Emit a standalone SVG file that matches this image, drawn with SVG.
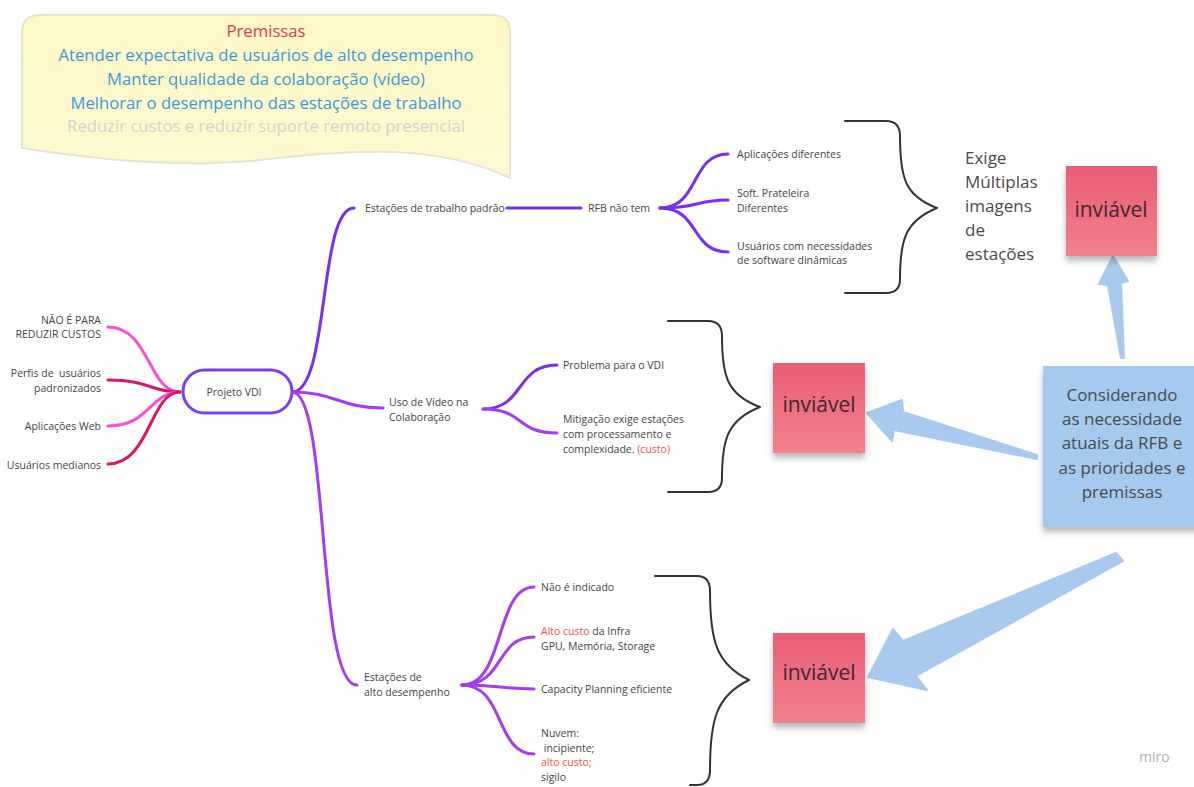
<svg xmlns="http://www.w3.org/2000/svg" width="1194" height="787" viewBox="0 0 1194 787">
<defs>
<style>
.t{font-family:"Open Sans","Noto Sans",sans-serif;font-size:10.5px;fill:#444;white-space:pre}
.r{fill:#e8553f}
.pm{font-family:"Open Sans","Noto Sans",sans-serif;font-size:16.7px;text-anchor:middle}
.big{font-family:"Open Sans","Noto Sans",sans-serif;font-size:17px;fill:#4a4a4a}
.inv{font-family:"Open Sans","Noto Sans",sans-serif;font-size:21px;fill:#3a2a2e;text-anchor:middle}
.br{fill:none;stroke:#333;stroke-width:2;stroke-linecap:round;stroke-linejoin:round}
.c{fill:none;stroke-width:3;stroke-linecap:round}
.pk{stroke:#f152d6}
.cr{stroke:#dc1665}
.vi{stroke:#7a2cf0}
.mg{stroke:#a43cef}
.ar{fill:#a9c9ef;stroke:#a9c9ef;stroke-width:2;stroke-linejoin:round}
</style>
<linearGradient id="stk" x1="0" y1="0" x2="0" y2="1">
<stop offset="0" stop-color="#e95d75"/>
<stop offset="1" stop-color="#f1818f"/>
</linearGradient>
<linearGradient id="yel" x1="0" y1="0" x2="0" y2="1">
<stop offset="0" stop-color="#fdf8c4"/>
<stop offset="1" stop-color="#fdf9d2"/>
</linearGradient>
<filter id="sh" x="-20%" y="-20%" width="140%" height="150%">
<feDropShadow dx="0" dy="5" stdDeviation="3" flood-color="#000" flood-opacity="0.28"/>
</filter>
</defs>

<g id="premissas">
<path d="M22,32 Q22,15 40,15 H492 Q510,15 510,32 V178 C 440,145 360,148 260,160 C 180,168 100,160 22,148 Z" fill="url(#yel)" stroke="#e6e4d2" stroke-width="2"/>
<text class="pm" x="266" y="37" fill="#d63a5e">Premissas</text>
<text class="pm" x="266" y="61" fill="#3a9ad9">Atender expectativa de usuários de alto desempenho</text>
<text class="pm" x="266" y="85" fill="#3a9ad9">Manter qualidade da colaboração (vídeo)</text>
<text class="pm" x="266" y="109" fill="#3a9ad9">Melhorar o desempenho das estações de trabalho</text>
<text class="pm" x="266" y="132" fill="#d2d2d2">Reduzir custos e reduzir suporte remoto presencial</text>
</g>

<g id="connectors">
<path class="c pk" d="M108,327 C 150,327 148,392 180,392"/>
<path class="c cr" d="M108,380 C 150,380 150,392 180,392"/>
<path class="c pk" d="M108,426 C 150,426 150,392 180,392"/>
<path class="c cr" d="M108,464 C 150,464 150,392 180,392"/>
<path class="c vi" d="M292,392 C 330,392 318,208 354,208"/>
<path class="c mg" d="M292,392 C 335,392 340,408 383,408"/>
<path class="c mg" d="M292,392 C 330,392 316,685 357,685"/>
<path class="c vi" d="M507,208 H581"/>
<path class="c vi" d="M660,208 C 700,208 690,154 728,154"/>
<path class="c vi" d="M660,208 C 700,208 695,200 728,200"/>
<path class="c vi" d="M660,208 C 700,208 690,252 728,252"/>
<path class="c vi" d="M483,409 C 525,409 515,365 557,365"/>
<path class="c mg" d="M483,409 C 525,409 515,433 557,433"/>
<path class="c mg" d="M462,685 C 505,685 495,587 534,587"/>
<path class="c mg" d="M462,685 C 505,685 495,637 534,637"/>
<path class="c mg" d="M462,685 C 500,685 500,689 534,689"/>
<path class="c mg" d="M462,685 C 505,685 495,754 534,754"/>
<path class="br" d="M845,121 H886 Q900,121 900,136 C 900,178 905,196 937,208 C 905,221 900,240 900,279 Q900,293 886,293 H845"/>
<path class="br" d="M668,321 H708 Q722,321 722,336 C 722,376 727,395 760,407 C 727,420 722,440 722,478 Q722,492 708,492 H668"/>
<path class="br" d="M655,576 H697 Q710,576 710,591 C 710,640 716,664 749,680 C 716,696 710,720 710,770 Q710,785 697,785 H690"/>
<polygon class="ar" points="1121,358 1124,358 1121,283 1128,281 1113,256 1099,284 1108,285"/>
<polygon class="ar" points="1037,455 903,412 902,400 867,413 892,441 894,430 1037,459"/>
<polygon class="ar" points="1116,553 903,641 893,629 868,677 927,690 916,676 1123,561"/>
</g>

<g id="left-items">
<text class="t" x="101" y="324" text-anchor="end">NÃO É PARA</text>
<text class="t" x="101" y="338" text-anchor="end">REDUZIR CUSTOS</text>
<text class="t" x="101" y="377" text-anchor="end">Perfis de  usuários</text>
<text class="t" x="101" y="392" text-anchor="end">padronizados</text>
<text class="t" x="101" y="430" text-anchor="end">Aplicações Web</text>
<text class="t" x="101" y="469" text-anchor="end">Usuários medianos</text>
</g>

<g id="projeto-vdi">
<rect x="183" y="370" width="109" height="43" rx="21.5" fill="#fff" stroke="#7b3ff0" stroke-width="3"/>
<text class="t" x="234" y="396" text-anchor="middle">Projeto VDI</text>
</g>

<g id="estacoes-padrao">
<text class="t" x="365" y="212">Estações de trabalho padrão</text>
<text class="t" x="588" y="212">RFB não tem</text>
<text class="t" x="737" y="158">Aplicações diferentes</text>
<text class="t" x="737" y="197">Soft. Prateleira</text>
<text class="t" x="737" y="212">Diferentes</text>
<text class="t" x="737" y="250">Usuários com necessidades</text>
<text class="t" x="737" y="264">de software dinâmicas</text>
</g>

<g id="uso-video">
<text class="t" x="389" y="406">Uso de Vídeo na</text>
<text class="t" x="389" y="421">Colaboração</text>
<text class="t" x="563" y="369">Problema para o VDI</text>
<text class="t" x="563" y="423">Mitigação exige estações</text>
<text class="t" x="563" y="438">com processamento e</text>
<text class="t" x="563" y="453">complexidade. <tspan class="r">(custo)</tspan></text>
</g>

<g id="alto-desempenho">
<text class="t" x="364" y="681">Estações de</text>
<text class="t" x="364" y="696">alto desempenho</text>
<text class="t" x="541" y="591">Não é indicado</text>
<text class="t" x="541" y="635"><tspan class="r">Alto custo</tspan> da Infra</text>
<text class="t" x="541" y="650">GPU, Memória, Storage</text>
<text class="t" x="541" y="693">Capacity Planning eficiente</text>
<text class="t" x="541" y="737">Nuvem:</text>
<text class="t" x="541" y="752"> incipiente;</text>
<text class="t r" x="541" y="766">alto custo;</text>
<text class="t" x="541" y="781">sigilo</text>
</g>

<g id="exige">
<text class="big" x="965" y="164">Exige</text>
<text class="big" x="965" y="188">Múltiplas</text>
<text class="big" x="965" y="212">imagens</text>
<text class="big" x="965" y="236">de</text>
<text class="big" x="965" y="260">estações</text>
</g>

<g id="inviavel-1">
<rect x="1066" y="166" width="91" height="90" fill="url(#stk)" filter="url(#sh)"/>
<text class="inv" x="1111" y="217">inviável</text>
</g>

<g id="inviavel-2">
<rect x="773" y="363" width="92" height="90" fill="url(#stk)" filter="url(#sh)"/>
<text class="inv" x="819" y="412">inviável</text>
</g>

<g id="inviavel-3">
<rect x="773" y="633" width="92" height="90" fill="url(#stk)" filter="url(#sh)"/>
<text class="inv" x="819" y="680">inviável</text>
</g>

<g id="considerando">
<rect x="1043" y="366" width="160" height="161" fill="#a6c9ef" filter="url(#sh)"/>
<text class="big" x="1122" y="401" text-anchor="middle" fill="#333">Considerando</text>
<text class="big" x="1122" y="425" text-anchor="middle" fill="#333">as necessidade</text>
<text class="big" x="1122" y="449" text-anchor="middle" fill="#333">atuais da RFB e</text>
<text class="big" x="1122" y="474" text-anchor="middle" fill="#333">as prioridades e</text>
<text class="big" x="1122" y="498" text-anchor="middle" fill="#333">premissas</text>
</g>

<text x="1139" y="762" font-family="Open Sans, Noto Sans, sans-serif" font-size="14" fill="#b0b0b0">miro</text>
</svg>
